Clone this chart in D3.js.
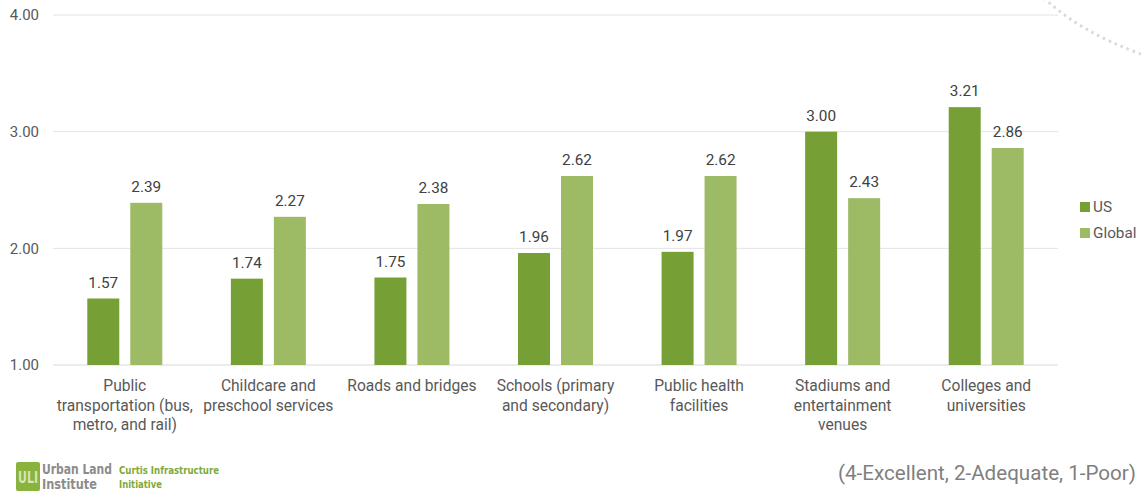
<!DOCTYPE html>
<html><head><meta charset="utf-8">
<script src="https://cdn.jsdelivr.net/npm/d3@7"></script>
<style>body{margin:0;background:#fff}svg{display:block;font-family:Roboto,"Noto Sans",sans-serif}</style>
</head><body><svg id="c" width="1141" height="493"></svg>
<script>
const categories = [
  ["Public","transportation (bus,","metro, and rail)"],
  ["Childcare and","preschool services"],
  ["Roads and bridges"],
  ["Schools (primary","and secondary)"],
  ["Public health","facilities"],
  ["Stadiums and","entertainment","venues"],
  ["Colleges and","universities"]
];
const seriesNames = ["US","Global"];
const usValues = [1.57,1.74,1.75,1.96,1.97,3.00,3.21];
const globalValues = [2.39,2.27,2.38,2.62,2.62,2.43,2.86];
const yTicks = [1,2,3,4];
const colors = ["#76a035","#9dba65"];

const svg = d3.select("#c");
const x0 = d3.scaleBand().domain(d3.range(categories.length)).range([53,1058]).paddingInner(0).paddingOuter(0);
const y = d3.scaleLinear().domain([1,4]).range([365,15]);

// gridlines
svg.append("g").selectAll("line").data(yTicks).join("line")
  .attr("x1",53).attr("x2",1058).attr("y1",d=>y(d)).attr("y2",d=>y(d))
  .attr("stroke",d=>d===1?"#d9d9d9":"#e3e3e3").attr("stroke-width",1);
svg.append("g").selectAll("text").data(yTicks).join("text")
  .attr("x",39).attr("y",d=>y(d)).attr("dy","0.35em").attr("text-anchor","end")
  .attr("font-size",15).attr("fill","#595959").text(d=>d.toFixed(2));

const barW = 32, gap = 11;
const data = [];
categories.forEach((c,i)=>{
  [usValues[i],globalValues[i]].forEach((v,j)=>data.push({i,j,v}));
});
const bx = d => x0(d.i) + x0.bandwidth()/2 + (d.j===0 ? -gap/2-barW : gap/2);
svg.append("g").selectAll("rect").data(data).join("rect")
  .attr("x",bx).attr("width",barW)
  .attr("y",d=>y(d.v)).attr("height",d=>y(1)-y(d.v))
  .attr("fill",d=>colors[d.j]);
svg.append("g").selectAll("text").data(data).join("text")
  .attr("x",d=>bx(d)+barW/2).attr("y",d=>y(d.v)-11).attr("text-anchor","middle")
  .attr("font-size",15.3).attr("fill","#404040").text(d=>d.v.toFixed(2));

// category labels
const cl = svg.append("g").selectAll("text").data(categories).join("text")
  .attr("x",(d,i)=>x0(i)+x0.bandwidth()/2).attr("y",391).attr("text-anchor","middle")
  .attr("font-size",15.6).attr("fill","#595959");
cl.selectAll("tspan").data(d=>d).join("tspan")
  .attr("x",function(){return this.parentNode.getAttribute("x");})
  .attr("dy",(d,k)=>k===0?0:19.5).text(d=>d);

// legend
const lg = svg.append("g").selectAll("g").data(seriesNames).join("g")
  .attr("transform",(d,i)=>`translate(1080,${207+i*26})`);
lg.append("rect").attr("x",0).attr("y",-5).attr("width",10).attr("height",10).attr("fill",(d,i)=>colors[i]);
lg.append("text").attr("x",13).attr("dy","0.35em").attr("font-size",15.3).attr("fill","#595959").text(d=>d);

// dotted arc
svg.append("path").attr("d","M1044,-2 Q1080,32 1141,54").attr("fill","none")
  .attr("stroke","#d9d9d9").attr("stroke-width",3).attr("stroke-dasharray","2.5,4");

// footnote
svg.append("text").attr("x",1136).attr("y",480).attr("text-anchor","end")
  .attr("font-size",20.6).attr("fill","#7f7f7f").text("(4-Excellent, 2-Adequate, 1-Poor)");

// logo
const cond = "'Liberation Sans Narrow','DejaVu Sans Condensed',sans-serif";
const logo = svg.append("g");
logo.append("rect").attr("x",16).attr("y",462).attr("width",24).attr("height",29).attr("rx",2).attr("fill","#8ab33e");
logo.append("text").attr("x",28).attr("y",483).attr("text-anchor","middle").attr("font-size",16).attr("font-weight","bold").attr("font-family",cond).attr("fill","#d6e6b5").attr("textLength",20).attr("lengthAdjust","spacingAndGlyphs").text("ULI");
logo.append("text").attr("x",42).attr("y",474).attr("font-size",13.5).attr("font-weight","bold").attr("font-family",cond).attr("fill","#8c8c8c").attr("textLength",70).attr("lengthAdjust","spacingAndGlyphs").text("Urban Land");
logo.append("text").attr("x",42).attr("y",489).attr("font-size",13.5).attr("font-weight","bold").attr("font-family",cond).attr("fill","#8c8c8c").attr("textLength",55).attr("lengthAdjust","spacingAndGlyphs").text("Institute");
logo.append("text").attr("x",119).attr("y",474).attr("font-size",11).attr("font-weight","bold").attr("font-family",cond).attr("fill","#80aa3a").attr("textLength",100).attr("lengthAdjust","spacingAndGlyphs").text("Curtis Infrastructure");
logo.append("text").attr("x",119).attr("y",488).attr("font-size",11).attr("font-weight","bold").attr("font-family",cond).attr("fill","#80aa3a").attr("textLength",43).attr("lengthAdjust","spacingAndGlyphs").text("Initiative");
</script></body></html>
